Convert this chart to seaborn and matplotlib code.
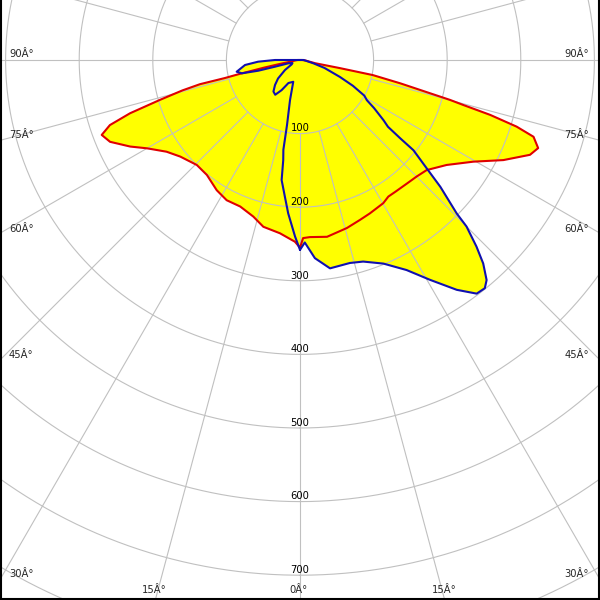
import numpy as np
import pandas as pd
import matplotlib
matplotlib.use("Agg")
import matplotlib.pyplot as plt
import seaborn as sns
from matplotlib.lines import Line2D

# ---------------- data (gamma in degrees, intensity in cd/klm) ----------------
# C0 plane (right half) and C180 plane (left half) -> red curve
gamma_red_c0 = [0, 1, 3.2, 8.7, 15.6, 20.6, 24.5, 30.2, 32.9, 36, 40.9, 45, 49, 54.4,
                59.6, 63.8, 67.6, 69.7, 71.8, 72.9, 73.9, 74.6, 75.1, 76.9, 78.3, 78.5,
                78, 84, 90]
I_red_c0 = [255, 242, 241, 243, 237, 232, 229, 225, 221, 221, 222, 224, 228, 245,
            273, 308, 338, 345, 334, 308, 269, 230, 211, 140, 101, 55,
            21, 8, 3]
gamma_red_c180 = [0, 1.6, 6.6, 12.4, 16.6, 22.2, 27.6, 32.6, 39, 44.5, 51.1, 55.5, 60,
                  63, 66.7, 69.3, 71.1, 72.6, 74.1, 75.5, 76.4, 76.5, 77, 78, 79, 80,
                  85, 90]
I_red_c180 = [255, 247, 237, 232, 222, 215, 215, 210, 201, 200, 209, 220, 240,
              259, 281, 288, 273, 242, 198, 165, 140, 105, 85, 50, 28, 14,
              6, 3]
# C90 plane (right half) and C270 plane (left half) -> blue curve
gamma_blue_c90 = [0, 1.5, 4.3, 8.2, 13.8, 17.4, 22.3, 26.9, 30.6, 34.3, 37.1, 39, 40.3,
                  42, 43.4, 45, 45.6, 47.9, 49.5, 51.5, 52, 52.8, 54.2, 57, 59, 61, 64,
                  67, 72, 76, 90]
I_blue_c90 = [258, 248, 270, 286, 284, 287, 299, 320, 347, 378, 398, 399, 392,
              372, 349, 320, 298, 257, 226, 197, 173, 150, 140, 120, 106, 100, 80,
              59, 35, 19, 5]
gamma_blue_c270 = [0, 1.6, 4.4, 6.3, 8.7, 9.5, 10.5, 11.3, 14, 17.2, 26.7, 31.4, 35.5,
                   40.1, 45, 49.9, 56.3, 62, 68, 74.2, 75, 75.6, 77.1, 79.5, 84.8, 87.7, 90]
I_blue_c270 = [258, 240, 209, 187, 165, 138, 124, 90, 56, 31, 35, 48, 58,
               56, 48, 39, 24.5, 13, 11, 16.5, 35, 58.5, 81, 87.5, 75, 57, 34]

radial_ticks = [100, 200, 300, 400, 500, 600, 700, 800]
radial_labels = ["100", "200", "300", "400", "500", "600", "700"]
angle_ticks = list(range(0, 360, 15))
left_labels = ["90Â°", "75Â°", "60Â°", "45Â°", "30Â°"]
bottom_labels = ["15Â°", "0Â°", "15Â°"]

# ---------------- figure ----------------
sns.set_theme(style="white")
plt.rcParams['font.family'] = ['DejaVu Sans']

W = H = 600
fig = plt.figure(figsize=(6, 6), dpi=100, facecolor="white")
RMAX = 1000
px_per_unit = 0.736
cx_px, cy_px = 300, 60
rad_px = RMAX * px_per_unit
ax = fig.add_axes([(cx_px - rad_px) / W, (H - cy_px - rad_px) / H,
                   2 * rad_px / W, 2 * rad_px / H], projection="polar")
ax.set_theta_zero_location("S")
ax.set_theta_direction(1)
ax.set_facecolor("white")


def polygon(g_right, i_right, g_left, i_left):
    th = np.concatenate([np.radians(g_right), -np.radians(g_left[::-1])])
    rr = np.concatenate([np.array(i_right, float), np.array(i_left[::-1], float)])
    return th, rr


th_red, r_red = polygon(gamma_red_c0, I_red_c0, gamma_red_c180, I_red_c180)
th_blue, r_blue = polygon(gamma_blue_c90, I_blue_c90, gamma_blue_c270, I_blue_c270)

fill_col = "#ffff00"
ax.fill(th_red, r_red, color=fill_col, lw=0, zorder=1)
ax.fill(th_blue, r_blue, color=fill_col, lw=0, zorder=1)

# grid
gcol = "#c0c0c0"
tt = np.linspace(0, 2 * np.pi, 2001)
for rr in radial_ticks:
    ax.plot(tt, np.full_like(tt, rr), color=gcol, lw=0.8, zorder=2)
for a in angle_ticks:
    ax.plot([np.radians(a)] * 2, [radial_ticks[0], RMAX], color=gcol, lw=0.8, zorder=2)

# curves
df_red = pd.DataFrame({"theta": np.append(th_red, th_red[0]), "I": np.append(r_red, r_red[0])})
df_blue = pd.DataFrame({"theta": np.append(th_blue, th_blue[0]), "I": np.append(r_blue, r_blue[0])})
sns.lineplot(data=df_red, x="theta", y="I", sort=False, estimator=None, ax=ax,
             color="#e00000", lw=1.5, zorder=4)
sns.lineplot(data=df_blue, x="theta", y="I", sort=False, estimator=None, ax=ax,
             color="#1010b0", lw=1.5, zorder=5)

ax.set_xlabel("")
ax.set_ylabel("")
ax.set_xticks([])
ax.set_yticks([])
ax.grid(False)
ax.spines["polar"].set_visible(False)
ax.set_xlim(0, 2 * np.pi)
ax.set_ylim(0, RMAX)

# radial value labels along the 0 deg axis
for rr, lab in zip(radial_ticks, radial_labels):
    ax.text(0, rr - 3, lab, ha="center", va="baseline", fontsize=7.2, color="black", zorder=6)

# angle labels at the figure edges
left_y = [57, 138, 232, 358, 577]
for lab, y in zip(left_labels, left_y):
    fig.text(9 / W, 1 - y / H, lab, ha="left", va="baseline", fontsize=7.2)
    fig.text(589 / W, 1 - y / H, lab, ha="right", va="baseline", fontsize=7.2)
for lab, x in zip(bottom_labels, [154, 299, 444]):
    fig.text(x / W, 1 - 593 / H, lab, ha="center", va="baseline", fontsize=7.2)

# black frame on left, right, bottom
for xs, ys in [([1, 1], [0, 600]), ([599, 599], [0, 600]), ([0, 600], [599, 599])]:
    fig.add_artist(Line2D([x / W for x in xs], [1 - y / H for y in ys],
                          transform=fig.transFigure, color="black", lw=1.5))

fig.savefig("out.png", dpi=100, facecolor="white")
